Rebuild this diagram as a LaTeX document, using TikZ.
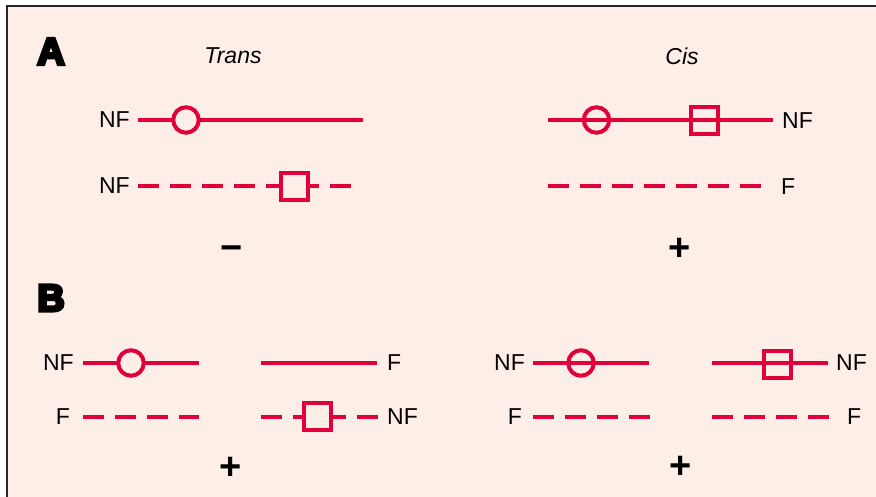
\documentclass[tikz,border=0pt]{standalone}
\usepackage{fontspec}
\setmainfont{Liberation Sans}
\newfontfamily\heavyfont{Liberation Sans Bold}[FakeBold=8]
\definecolor{panel}{RGB}{253,238,231}
\definecolor{chrom}{RGB}{226,0,58}
\begin{document}
\begin{tikzpicture}[x=1pt,y=-1pt,
  lbl/.style={font=\fontsize{23}{27}\selectfont, inner sep=0pt},
  title/.style={font=\fontsize{23}{27}\selectfont\itshape, inner sep=0pt},
  panellbl/.style={font=\heavyfont\fontsize{38}{38}\selectfont, inner sep=0pt},
  sign/.style={font=\bfseries\fontsize{38}{38}\selectfont, inner sep=0pt},
  chromo/.style={draw=chrom, line width=4pt},
  dashchromo/.style={chromo, dash pattern=on 21pt off 11pt},
  ring/.style={circle, draw=chrom, fill=panel, line width=4pt, minimum size=25.5pt, inner sep=0pt},
  boxmark/.style={rectangle, draw=chrom, fill=panel, line width=4pt, minimum size=27pt, inner sep=0pt},
  openring/.style={ring, fill=none},
  openbox/.style={boxmark, fill=none}]
\useasboundingbox (0,0) rectangle (876,497);
\fill[white] (0,0) rectangle (876,497);
\fill[panel] (7,6) rectangle (876,497);
\draw[line width=1.6pt, black!85] (876,5.8) -- (6.8,5.8) -- (6.8,497);

% panel letters and headings
\node[panellbl] (pA) at (51,51.5) {A};
\node[panellbl] (pB) at (51,298) {B};
\node[title] (trans) at (233,56) {Trans};
\node[title] (cis) at (682,56.5) {Cis};

% ---- A, trans ----
\node[lbl, anchor=east] (ta1) at (130,120) {NF};
\coordinate (ta1s) at (138,120); \coordinate (ta1e) at (363,120);
\draw[chromo] (ta1s) -- (ta1e);
\node[ring] (tring) at (186,120) {};
\node[lbl, anchor=east] (ta2) at (130,186) {NF};
\coordinate (ta2s) at (138,186); \coordinate (ta2e) at (352,186);
\draw[dashchromo] (ta2s) -- (ta2e);
\node[boxmark] (tbox) at (294.5,186.5) {};
\node[sign] (minus) at (231.5,253) {−};

% ---- A, cis ----
\coordinate (ca1s) at (548,120) ; \coordinate (ca1e) at (773,120);
\draw[chromo] (ca1s) -- (ca1e);
\node[openring] (cring) at (596.5,120) {};
\node[openbox] (cbox) at (704.5,120.5) {};
\node[lbl, anchor=west] (ca1) at (782,120.5) {NF};
\coordinate (ca2s) at (548,186.5); \coordinate (ca2e) at (762,186.5);
\draw[dashchromo] (ca2s) -- (ca2e);
\node[lbl, anchor=west] (ca2) at (781,186.5) {F};
\node[sign] (plusA) at (680,249) {+};

% ---- B, left ----
\node[lbl, anchor=east] (bl1) at (74,363) {NF};
\coordinate (bl1s) at (83,363); \coordinate (bl1e) at (199,363);
\draw[chromo] (bl1s) -- (bl1e);
\node[ring] (blring) at (131,363) {};
\coordinate (bl1s2) at (261,363); \coordinate (bl1e2) at (377,363);
\draw[chromo] (bl1s2) -- (bl1e2);
\node[lbl, anchor=west] (bl1r) at (387,363) {F};
\node[lbl, anchor=east] (bl2) at (70,416.5) {F};
\coordinate (bl2s) at (83,416.5); \coordinate (bl2e) at (199,416.5);
\draw[dashchromo] (bl2s) -- (bl2e);
\coordinate (bl2s2) at (261,416.5); \coordinate (bl2e2) at (378,416.5);
\draw[dashchromo] (bl2s2) -- (bl2e2);
\node[boxmark] (blbox) at (317,416) {};
\node[lbl, anchor=west] (bl2r) at (387,416.5) {NF};
\node[sign] (plusBl) at (231,468) {+};

% ---- B, right ----
\node[lbl, anchor=east] (br1) at (525,363) {NF};
\coordinate (br1s) at (533,363); \coordinate (br1e) at (649,363);
\draw[chromo] (br1s) -- (br1e);
\node[openring] (brring) at (581,363) {};
\coordinate (br1s2) at (712,363); \coordinate (br1e2) at (828,363);
\draw[chromo] (br1s2) -- (br1e2);
\node[openbox] (brbox) at (777.5,364) {};
\node[lbl, anchor=west] (br1r) at (836,363) {NF};
\node[lbl, anchor=east] (br2) at (522,416.5) {F};
\coordinate (br2s) at (533,416.5); \coordinate (br2e) at (650,416.5);
\draw[dashchromo] (br2s) -- (br2e);
\coordinate (br2s2) at (712,416.5); \coordinate (br2e2) at (829,416.5);
\draw[dashchromo] (br2s2) -- (br2e2);
\node[lbl, anchor=west] (br2r) at (847,416.5) {F};
\node[sign] (plusBr) at (680.5,467) {+};
\end{tikzpicture}
\end{document}
